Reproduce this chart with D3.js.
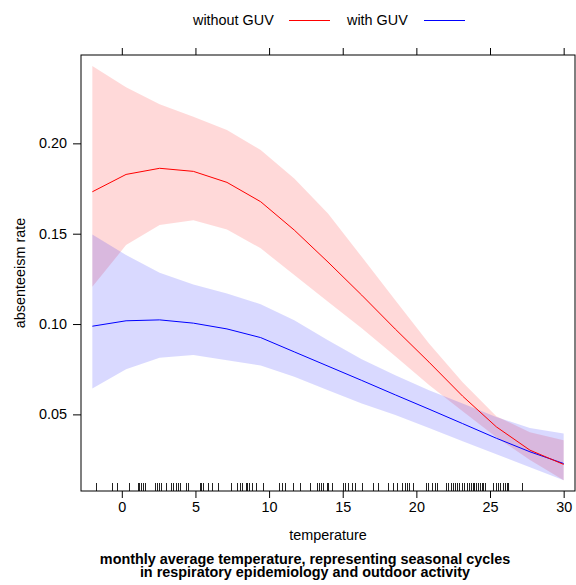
<!DOCTYPE html>
<html>
<head>
<meta charset="utf-8">
<script src="https://cdn.jsdelivr.net/npm/d3@7"></script>
<style>
  body { margin: 0; background: #fff; }
  svg { display: block; font-family: "Liberation Sans", Arial, sans-serif; }
</style>
</head>
<body>
<div id="vis"></div>
<script>
// temperature grid where the fit was evaluated
var temperature = [-2, 0.29, 2.57, 4.86, 7.14, 9.43, 11.71, 14, 16.29, 18.57, 20.86, 23.14, 25.43, 27.71, 30];

// fitted absenteeism rate and 95% band, without GUV
var noGuvFit   = [0.1732, 0.1828, 0.1862, 0.1845, 0.1784, 0.1677, 0.1520, 0.1343, 0.1160, 0.0972, 0.0789, 0.0601, 0.0431, 0.0302, 0.0223];
var noGuvUpper = [0.2428, 0.2310, 0.2216, 0.2147, 0.2074, 0.1963, 0.1806, 0.1612, 0.1372, 0.1132, 0.0893, 0.0678, 0.0490, 0.0401, 0.0357];
var noGuvLower = [0.1206, 0.1437, 0.1548, 0.1575, 0.1523, 0.1419, 0.1271, 0.1123, 0.0977, 0.0822, 0.0662, 0.0518, 0.0374, 0.0247, 0.0136];

// same for with GUV
var guvFit   = [0.0988, 0.1018, 0.1023, 0.1005, 0.0973, 0.0925, 0.0846, 0.0767, 0.0688, 0.0608, 0.0529, 0.0449, 0.0368, 0.0293, 0.0228];
var guvUpper = [0.1496, 0.1382, 0.1284, 0.1219, 0.1169, 0.1110, 0.1021, 0.0910, 0.0805, 0.0717, 0.0634, 0.0560, 0.0486, 0.0424, 0.0394];
var guvLower = [0.0643, 0.0750, 0.0813, 0.0828, 0.0800, 0.0770, 0.0708, 0.0634, 0.0560, 0.0496, 0.0424, 0.0352, 0.0279, 0.0207, 0.0136];

// observed monthly temperatures (rug)
var rugTemps = [-1.77, -0.64, -0.34, 0.52, 1.08, 1.20, 1.31, 1.42, 1.60, 2.28, 2.37, 2.51, 2.67, 3.01, 3.35, 3.51, 3.66, 3.80, 3.96,
  4.36, 4.48, 5.31, 5.40, 5.50, 5.88, 6.11, 6.56, 7.40, 7.85, 8.03, 8.19, 8.42, 8.53, 8.66, 8.87, 9.09, 9.61, 10.68, 10.86, 11.08,
  11.61, 12.10, 12.78, 13.28, 13.41, 13.53, 13.66, 13.91, 14.02, 14.25, 15.04, 15.16, 15.38, 15.61, 15.84, 16.29, 17.08, 17.42,
  18.10, 18.39, 18.67, 19.00, 19.23, 19.39, 19.52, 19.79, 20.65, 20.81, 21.04, 21.27, 21.38, 22.01, 22.17, 22.33, 22.51, 22.62,
  22.78, 22.92, 23.08, 23.23, 23.42, 23.57, 23.69, 23.82, 23.93, 24.05, 24.20, 24.32, 24.43, 24.54, 24.66, 25.22, 25.41, 25.53,
  25.68, 25.86, 26.02, 26.13, 26.24, 27.19];

var xTicks = [0, 5, 10, 15, 20, 25, 30];
var yTicks = [0.05, 0.10, 0.15, 0.20];

var seriesNames = ['without GUV', 'with GUV'];
var seriesColors = ['#ff0000', '#0000ff'];

var width = 576, height = 585;
var panel = { left: 81, right: 575, top: 55, bottom: 491 };
var fontSize = 14.4;

var svg = d3.select('#vis').append('svg')
    .attr('width', width)
    .attr('height', height);

var x = d3.scaleLinear().domain([-2.77, 30.77]).range([panel.left, panel.right]);
var y = d3.scaleLinear().domain([0.0076, 0.2489]).range([panel.bottom, panel.top]);

var series = [
  { name: seriesNames[0], color: seriesColors[0], fit: noGuvFit, lo: noGuvLower, hi: noGuvUpper },
  { name: seriesNames[1], color: seriesColors[1], fit: guvFit, lo: guvLower, hi: guvUpper }
];

svg.append('clipPath').attr('id', 'clip')
  .append('rect')
  .attr('x', panel.left).attr('y', panel.top)
  .attr('width', panel.right - panel.left).attr('height', panel.bottom - panel.top);

var plot = svg.append('g').attr('clip-path', 'url(#clip)');

var area = d3.area()
    .x(function (d) { return x(d.t); })
    .y0(function (d) { return y(d.lo); })
    .y1(function (d) { return y(d.hi); });

var line = d3.line()
    .x(function (d) { return x(d.t); })
    .y(function (d) { return y(d.v); });

// bands first, then lines on top
series.forEach(function (s) {
  var pts = temperature.map(function (t, i) { return { t: t, lo: s.lo[i], hi: s.hi[i] }; });
  plot.append('path')
      .attr('d', area(pts))
      .attr('fill', s.color)
      .attr('fill-opacity', 0.15);
});

series.slice().reverse().forEach(function (s) {
  var pts = temperature.map(function (t, i) { return { t: t, v: s.fit[i] }; });
  plot.append('path')
      .attr('d', line(pts))
      .attr('fill', 'none')
      .attr('stroke', s.color)
      .attr('stroke-width', 1);
});

// rug along bottom of panel
plot.selectAll('.rug').data(rugTemps).enter()
  .append('line')
    .attr('class', 'rug')
    .attr('x1', function (d) { return Math.round(x(d)) + 0.5; })
    .attr('x2', function (d) { return Math.round(x(d)) + 0.5; })
    .attr('y1', panel.bottom - 8)
    .attr('y2', panel.bottom)
    .attr('stroke', '#222')
    .attr('stroke-width', 1);

// panel box
svg.append('rect')
    .attr('x', panel.left).attr('y', panel.top)
    .attr('width', panel.right - panel.left).attr('height', panel.bottom - panel.top)
    .attr('fill', 'none')
    .attr('stroke', '#000')
    .attr('stroke-width', 1);

// axes
var xAxisBottom = d3.axisBottom(x).tickValues(xTicks).tickSize(7).tickPadding(4).tickFormat(d3.format('d'));
var xAxisTop = d3.axisTop(x).tickValues(xTicks).tickSize(7).tickFormat('');
var yAxisLeft = d3.axisLeft(y).tickValues(yTicks).tickSize(8).tickPadding(6).tickFormat(d3.format('.2f'));

function styleAxis(g) {
  g.select('.domain').remove();
  g.selectAll('.tick line').attr('stroke', '#000');
  g.selectAll('.tick text')
    .attr('fill', '#000')
    .style('font-size', fontSize + 'px')
    .style('font-family', '"Liberation Sans", Arial, sans-serif');
}

svg.append('g')
    .attr('transform', 'translate(0,' + panel.bottom + ')')
    .call(xAxisBottom)
    .call(styleAxis);

svg.append('g')
    .attr('transform', 'translate(0,' + panel.top + ')')
    .call(xAxisTop)
    .call(styleAxis);

svg.append('g')
    .attr('transform', 'translate(' + panel.left + ',0)')
    .call(yAxisLeft)
    .call(styleAxis);

// axis titles
svg.append('text')
    .attr('x', (panel.left + panel.right) / 2)
    .attr('y', 540)
    .attr('text-anchor', 'middle')
    .style('font-size', fontSize + 'px')
    .text('temperature');

svg.append('text')
    .attr('transform', 'translate(25,' + (panel.top + panel.bottom) / 2 + ') rotate(-90)')
    .attr('text-anchor', 'middle')
    .style('font-size', fontSize + 'px')
    .text('absenteeism rate');

// sub title, two lines, bold
var subX = 305;
var sub = svg.append('text')
    .attr('text-anchor', 'middle')
    .style('font-size', fontSize + 'px')
    .style('font-weight', 'bold');
sub.append('tspan')
    .attr('x', subX).attr('y', 564)
    .text('monthly average temperature, representing seasonal cycles');
sub.append('tspan')
    .attr('x', subX).attr('y', 577)
    .text('in respiratory epidemiology and outdoor activity');

// legend on top
var legendItems = [
  { name: seriesNames[0], color: seriesColors[0], tx: 193, lx: 289 },
  { name: seriesNames[1], color: seriesColors[1], tx: 347, lx: 424 }
];
var legend = svg.append('g').attr('class', 'legend');
legendItems.forEach(function (d) {
  legend.append('text')
      .attr('x', d.tx).attr('y', 25)
      .style('font-size', fontSize + 'px')
      .text(d.name);
  legend.append('line')
      .attr('x1', d.lx).attr('x2', d.lx + 41)
      .attr('y1', 20.5).attr('y2', 20.5)
      .attr('stroke', d.color)
      .attr('stroke-width', 1);
});
</script>
</body>
</html>
